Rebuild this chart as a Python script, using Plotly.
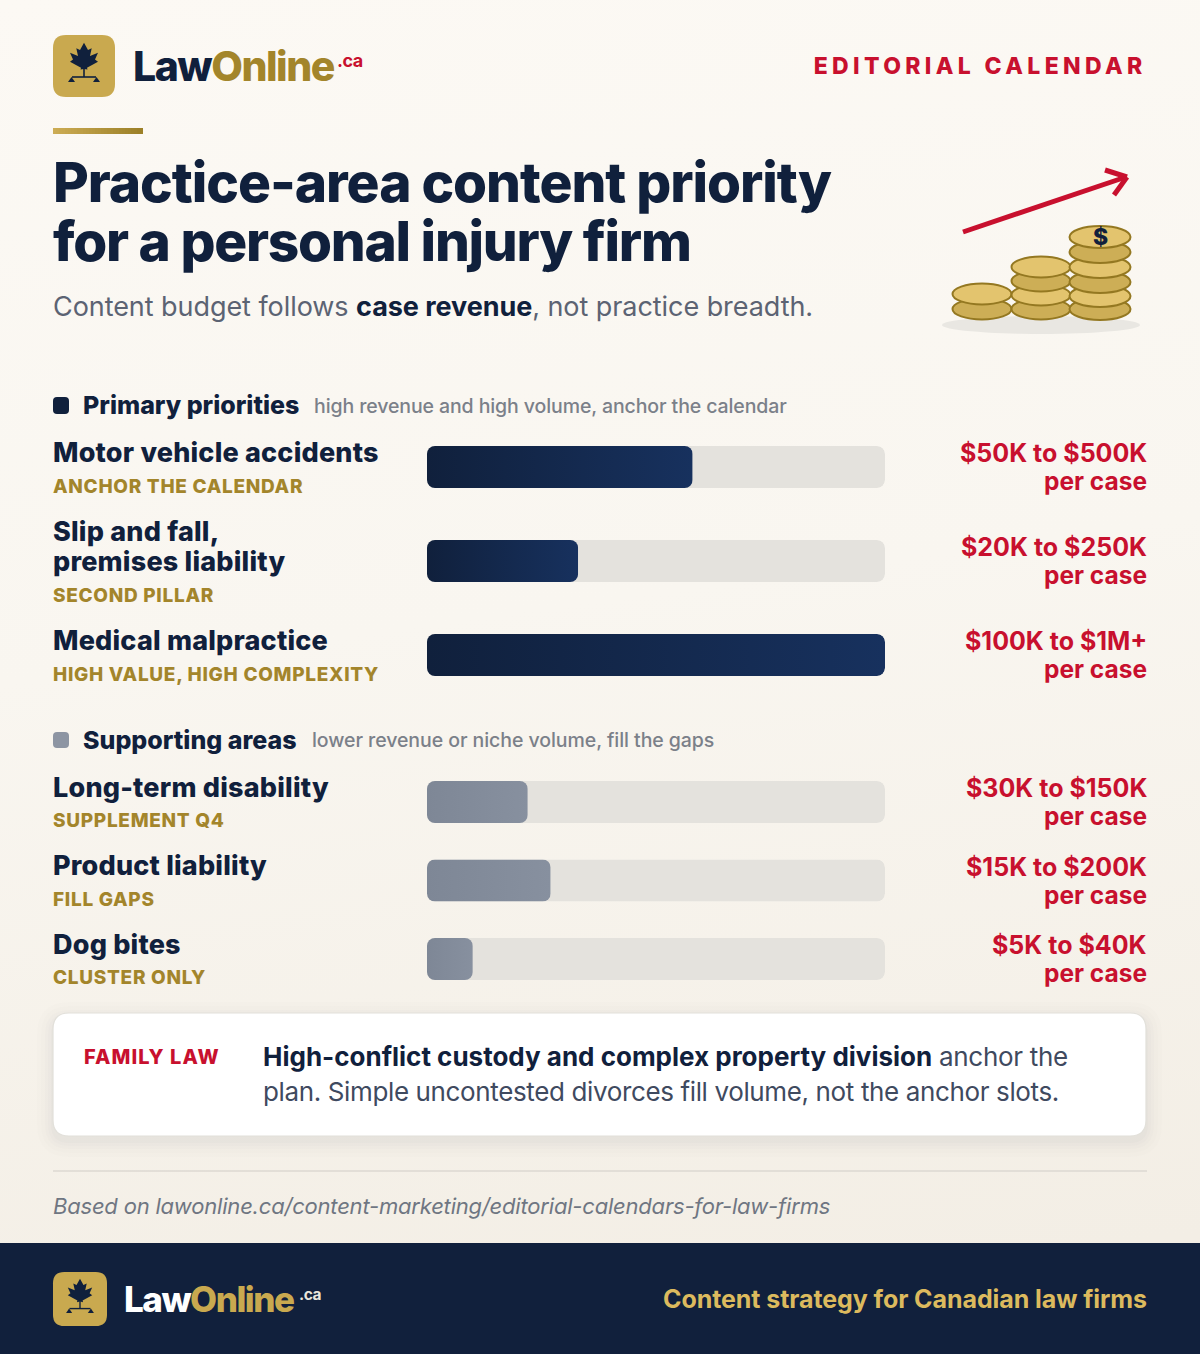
import json
import plotly.graph_objects as go

# colours
NAVY = '#10203c'
RED = '#c8102e'
GOLD = '#a3852b'
GOLD_ICON = '#c9a94f'
FONT = 'Inter'

# data
primary_areas = ['Motor vehicle accidents', 'Slip and fall, premises liability', 'Medical malpractice']
primary_share = [58, 33, 100]
primary_tags = ['ANCHOR THE CALENDAR', 'SECOND PILLAR', 'HIGH VALUE, HIGH COMPLEXITY']
primary_values = ['$50K to $500K', '$20K to $250K', '$100K to $1M+']

support_areas = ['Long-term disability', 'Product liability', 'Dog bites']
support_share = [22, 27, 10]
support_tags = ['SUPPLEMENT Q4', 'FILL GAPS', 'CLUSTER ONLY']
support_values = ['$30K to $150K', '$15K to $200K', '$5K to $40K']

fig = go.Figure()
shapes = []
notes = []
spacing = {}


def text(x, y, s, size, color=NAVY, weight=400, anchor='left', track=0, style='normal'):
    if track:
        spacing[len(notes)] = [track, anchor]
    # side bearing of the glyphs
    x = x - 1.2 if anchor == 'left' else x + 1 if anchor == 'right' else x
    notes.append(dict(x=x, y=y, xref='x', yref='y', text=s, showarrow=False, xanchor=anchor,
                      yanchor='middle', borderpad=0,
                      font=dict(family=FONT, size=size, color=color, weight=weight, style=style)))


def rrect(x0, y0, x1, y1, r, fill, line=None, width=1):
    path = (f'M{x0+r},{y0} L{x1-r},{y0} Q{x1},{y0} {x1},{y0+r} L{x1},{y1-r} Q{x1},{y1} {x1-r},{y1} '
            f'L{x0+r},{y1} Q{x0},{y1} {x0},{y1-r} L{x0},{y0+r} Q{x0},{y0} {x0+r},{y0} Z')
    shapes.append(dict(type='path', path=path, xref='x', yref='y', fillcolor=fill, layer='below',
                       line=dict(color=line or 'rgba(0,0,0,0)', width=width if line else 0)))


def seg(x0, y0, x1, y1, color, width):
    shapes.append(dict(type='line', x0=x0, y0=y0, x1=x1, y1=y1, xref='x', yref='y', layer='below',
                       line=dict(color=color, width=width)))


def ellipse(cx, cy, rx, ry, fill, line=None, width=2):
    shapes.append(dict(type='circle', x0=cx-rx, x1=cx+rx, y0=cy-ry, y1=cy+ry, xref='x', yref='y',
                       layer='below', fillcolor=fill,
                       line=dict(color=line or 'rgba(0,0,0,0)', width=width if line else 0)))


def logo(x0, y0, size, law_color, online_color, ca_color, word_size, ca_size, word_x, ca_x, ca_dy):
    k = size / 62
    rrect(x0, y0, x0+size, y0+size, 13*k, GOLD_ICON)
    cx, cy = x0 + size/2, y0 + size/2
    half = [(0, -23.3), (4, -16), (7.7, -17.7), (6, -10), (14, -13.3), (11, -6.5), (14, -4.3),
            (3, 1.7), (3.5, 3.6), (0, 3)]
    pts = half + [(-a, b) for a, b in reversed(half[1:-1])]
    path = 'M' + ' L'.join(f'{cx+a*k},{cy+b*k}' for a, b in pts) + ' Z'
    shapes.append(dict(type='path', path=path, xref='x', yref='y', fillcolor=NAVY, layer='below',
                       line=dict(width=0, color=NAVY)))
    seg(cx, cy+2*k, cx, cy+11*k, NAVY, 1.6*k)
    seg(cx-12*k, cy+11*k, cx+12*k, cy+11*k, NAVY, 1.6*k)
    for sx in (-1, 1):
        tip = cx + sx*12.5*k
        tri = f'M{tip},{cy+11*k} L{tip+3.5*k},{cy+16*k} L{tip-3.5*k},{cy+16*k} Z'
        shapes.append(dict(type='path', path=tri, xref='x', yref='y', fillcolor=NAVY, layer='below',
                           line=dict(width=0, color=NAVY)))
    mid_y = y0 + size/2
    text(word_x, mid_y - 0.5, f'<span style="color:{law_color}">Law</span><span style="color:{online_color}">Online</span>',
         word_size, weight=800, track=-1.5)
    text(ca_x, mid_y + ca_dy, '.ca', ca_size, ca_color, weight=700, track=-0.5)


# header
logo(53, 35, 62, NAVY, GOLD, RED, 41, 18, 133, 337.5, -6)
text(1147, 66, 'EDITORIAL CALENDAR', 23, RED, 800, 'right', track=4.35)
n = 30
for i in range(n):
    t = i / (n-1)
    c = f'rgb({int(204-48*t)},{int(172-44*t)},{int(84-44*t)})'
    shapes.append(dict(type='rect', x0=53+90*i/n, x1=53+90*(i+1)/n, y0=128, y1=134, xref='x', yref='y',
                       layer='below', fillcolor=c, line=dict(width=0)))
text(53, 182, 'Practice-area content priority', 55, NAVY, 800, track=-1.05)
text(53, 241, 'for a personal injury firm', 55, NAVY, 800, track=-1.28)
text(53, 306, f'Content budget follows <b style="color:{NAVY}">case revenue</b>, not practice breadth.', 27, '#5c6373', 400, track=-0.06)

# coins and arrow
ellipse(1041, 325, 99, 9, '#e9e7e2')
COIN_A, COIN_B, COIN_EDGE = '#e3c46e', '#cdae56', '#947821'
for cy, c in zip([309, 294], [COIN_B, COIN_A]):
    ellipse(982, cy, 29.5, 10.5, c, COIN_EDGE)
for cy, c in zip([309, 295, 281, 267], [COIN_B, COIN_A, COIN_B, COIN_A]):
    ellipse(1041, cy, 29.5, 10.5, c, COIN_EDGE)
for cy, c in zip([309, 296, 282, 267, 252, 237], [COIN_B, COIN_A, COIN_B, COIN_A, COIN_B, COIN_A]):
    ellipse(1100, cy, 30.5, 11, c, COIN_EDGE)
text(1100, 237, '$', 23, NAVY, 800, 'center')
seg(963, 232, 1126, 177, RED, 5)
seg(1105, 170, 1127, 177, RED, 5)
seg(1127, 177, 1114, 195, RED, 5)

# section headings
rrect(53, 397, 69, 414, 4, NAVY)
text(83, 405, 'Primary priorities', 25, NAVY, 800)
text(314, 405.5, 'high revenue and high volume, anchor the calendar', 19.5, '#7b8089', 500, track=-0.1)
rrect(53, 732, 69, 748, 4, '#8d95a3')
text(83, 740, 'Supporting areas', 25, NAVY, 800)
text(312, 740, 'lower revenue or niche volume, fill the gaps', 19.5, '#7b8089', 500, track=-0.06)

# row labels
lab_y = [[452], [531, 561], [640], [787], [865], [944]]
tag_y = [486, 595, 674, 820, 899, 977]
val_y = [452.5, 546.5, 640.5, 787.5, 866.5, 944.5]
lab_lines = [[primary_areas[0]], ['Slip and fall,', 'premises liability'], [primary_areas[2]],
             [support_areas[0]], [support_areas[1]], [support_areas[2]]]
for lines, ys, tag, ty, val, vy in zip(lab_lines, lab_y, primary_tags + support_tags, tag_y,
                                        primary_values + support_values, val_y):
    for s, y in zip(lines, ys):
        text(53, y, s, 27, NAVY, 800, track=0.2)
    text(53, ty, tag, 19, GOLD, 800, track=0.7)
    text(1147, vy, val, 25, RED, 700, 'right')
    text(1147, vy + 28.5, 'per case', 24.5, RED, 700, 'right')

# family law card
for grow, alpha in [(16, .006), (12, .008), (8, .010), (5, .012), (2, .016)]:
    rrect(53-grow, 1013-grow+5, 1146+grow, 1136+grow+5, 16+grow, f'rgba(16,32,60,{alpha})')
rrect(53, 1013, 1146, 1136, 16, '#ffffff', '#e2e0da', 1.2)
text(84, 1057, 'FAMILY LAW', 20, RED, 800, track=1.1)
text(263, 1056, 'High-conflict custody and complex property division', 26, NAVY, 700)
text(939, 1056, 'anchor the', 26, '#3f4a5f', 400, track=-0.3)
text(263, 1091, 'plan. Simple uncontested divorces fill volume, not the anchor slots.', 26, '#3f4a5f', 400, track=-0.37)

# footnote
seg(53, 1171, 1147, 1171, '#dcd9d2', 1.5)
text(53, 1206, 'Based on lawonline.ca/content-marketing/editorial-calendars-for-law-firms', 22, '#6f7682', 400, style='italic', track=-0.2)

# footer
shapes.append(dict(type='rect', x0=0, x1=1200, y0=1243, y1=1354, xref='x', yref='y', layer='below',
                   fillcolor='#11203c', line=dict(width=0)))
logo(53, 1272, 54, '#ffffff', GOLD_ICON, '#e9e5db', 35, 15.5, 124, 299, -5)
text(1147, 1299, 'Content strategy for Canadian law firms', 25, '#dcba5e', 700, 'right', track=-0.08)

# page axes, the bars get their own
fig.add_trace(go.Scatter(x=[0], y=[0], xaxis='x', yaxis='y', mode='markers', marker=dict(opacity=0),
                         hoverinfo='skip', showlegend=False))
TRACK = '#e4e2dd'
for areas, share, ax, ay, w, c in [(primary_areas, primary_share, 'x2', 'y2', 42/94, '#12223f'),
                                   (support_areas, support_share, 'x3', 'y3', 42/78.5, '#858d9b')]:
    fig.add_trace(go.Bar(y=areas, x=[100]*len(areas), orientation='h', xaxis=ax, yaxis=ay, width=w,
                         marker=dict(color=TRACK, line=dict(width=0)), hoverinfo='skip', showlegend=False))
    fig.add_trace(go.Bar(y=areas, x=share, orientation='h', xaxis=ax, yaxis=ay, width=w,
                         marker=dict(color=c, line=dict(width=0)), hoverinfo='skip', showlegend=False))

W, H = 1200, 1354
hidden = dict(visible=False, fixedrange=True)
fig.update_layout(
    width=W, height=H, margin=dict(l=0, r=0, t=0, b=0),
    paper_bgcolor='rgba(0,0,0,0)', plot_bgcolor='rgba(0,0,0,0)',
    barmode='overlay', barcornerradius=8, showlegend=False,
    xaxis=dict(range=[0, W], domain=[0, 1], **hidden),
    yaxis=dict(range=[H, 0], domain=[0, 1], **hidden),
    xaxis2=dict(range=[0, 100], domain=[427/W, 885/W], anchor='y2', **hidden),
    yaxis2=dict(domain=[1-702/H, 1-420/H], anchor='x2', autorange='reversed', type='category', **hidden),
    xaxis3=dict(range=[0, 100], domain=[427/W, 885/W], anchor='y3', **hidden),
    yaxis3=dict(domain=[1-998.25/H, 1-762.75/H], anchor='x3', autorange='reversed', type='category', **hidden),
    shapes=shapes, annotations=notes,
)

# plotly has no letter spacing, bar gradients or page gradient, so set them on the drawn svg
post = '''
document.documentElement.style.margin = '0';
document.body.style.margin = '0';
document.body.style.background = 'linear-gradient(172deg, #fcf9f4 0%, #f9f6f0 45%, #f3eee5 92%)';
var spacing = ''' + json.dumps(spacing) + ''';
document.querySelectorAll('.annotation').forEach(function (a) {
  var s = spacing[a.getAttribute('data-index')];
  if (!s) return;
  var t = a.querySelector('text.annotation-text');
  var before = t.getBBox();
  t.style.letterSpacing = s[0] + 'px';
  var after = t.getBBox();
  var dx = s[1] === 'right' ? (before.x + before.width) - (after.x + after.width) : before.x - after.x;
  t.setAttribute('x', parseFloat(t.getAttribute('x')) + dx);
});
var svg = document.querySelector('svg.main-svg');
var defs = svg.querySelector('defs');
function grad(id, a, b) {
  var g = document.createElementNS('http://www.w3.org/2000/svg', 'linearGradient');
  g.id = id;
  [[0, a], [1, b]].forEach(function (p) {
    var st = document.createElementNS('http://www.w3.org/2000/svg', 'stop');
    st.setAttribute('offset', p[0]);
    st.setAttribute('stop-color', p[1]);
    g.appendChild(st);
  });
  defs.appendChild(g);
}
grad('fillA', '#10203c', '#17315e');
grad('fillB', '#7e8796', '#87909f');
[['x2y2', 'fillA'], ['x3y3', 'fillB']].forEach(function (p) {
  var traces = document.querySelectorAll('.subplot.' + p[0] + ' .barlayer .trace');
  traces[1].querySelectorAll('path').forEach(function (e) { e.style.fill = 'url(#' + p[1] + ')'; });
  // plotly only rounds the far end of a bar
  traces.forEach(function (tr) {
    tr.querySelectorAll('path').forEach(function (e) { e.style.clipPath = 'inset(0 round 8px)'; });
  });
});
'''
fig.write_html('out.html', post_script=post, config=dict(displayModeBar=False, responsive=False))
